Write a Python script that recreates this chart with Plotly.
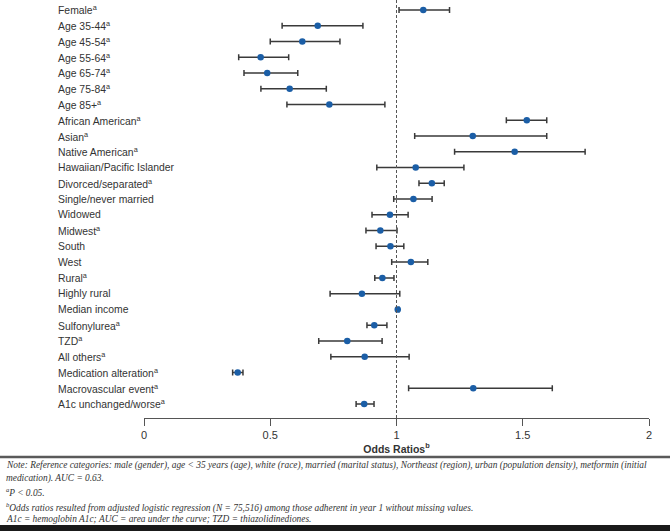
import plotly.graph_objects as go

# odds ratios, top row first
labels = [
    "Female<sup>a</sup>", "Age 35-44<sup>a</sup>", "Age 45-54<sup>a</sup>",
    "Age 55-64<sup>a</sup>", "Age 65-74<sup>a</sup>", "Age 75-84<sup>a</sup>",
    "Age 85+<sup>a</sup>", "African American<sup>a</sup>", "Asian<sup>a</sup>",
    "Native American<sup>a</sup>", "Hawaiian/Pacific Islander",
    "Divorced/separated<sup>a</sup>", "Single/never married", "Widowed",
    "Midwest<sup>a</sup>", "South", "West", "Rural<sup>a</sup>", "Highly rural",
    "Median income", "Sulfonylurea<sup>a</sup>", "TZD<sup>a</sup>",
    "All others<sup>a</sup>", "Medication alteration<sup>a</sup>",
    "Macrovascular event<sup>a</sup>", "A1c unchanged/worse<sup>a</sup>",
]
odds = [1.106, 0.688, 0.627, 0.462, 0.488, 0.577, 0.734, 1.516, 1.302, 1.468,
        1.076, 1.140, 1.067, 0.974, 0.936, 0.976, 1.057, 0.944, 0.863, 1.005,
        0.912, 0.805, 0.874, 0.371, 1.304, 0.872]
ci_low = [1.010, 0.547, 0.500, 0.375, 0.396, 0.463, 0.566, 1.435, 1.072, 1.230,
          0.922, 1.089, 0.989, 0.903, 0.879, 0.919, 0.981, 0.914, 0.737, 1.000,
          0.883, 0.692, 0.740, 0.351, 1.048, 0.840]
ci_high = [1.210, 0.867, 0.776, 0.573, 0.609, 0.722, 0.954, 1.595, 1.595, 1.747,
           1.267, 1.189, 1.141, 1.046, 1.002, 1.029, 1.124, 0.990, 1.013, 1.010,
           0.962, 0.943, 1.050, 0.392, 1.617, 0.911]
x_ticks = [0, 0.5, 1, 1.5, 2]

notes = [
    "Note: Reference categories: male (gender), age &lt; 35 years (age), white (race), married (marital status), "
    "Northeast (region), urban (population density), metformin (initial",
    "medication). AUC = 0.63.",
    "<sup>a</sup>P &lt; 0.05.",
    "<sup>b</sup>Odds ratios resulted from adjusted logistic regression (N = 75,516) among those adherent in year 1 without missing values.",
    "A1c = hemoglobin A1c; AUC = area under the curve; TZD = thiazolidinediones.",
]
note_y = [465, 479, 492, 507, 519]  # pixel rows of the footnote lines

W, H = 670, 531
L, R, T, B = 144, 21, 0, 113
pw, ph = W - L - R, H - T - B


def px(x):
    return (x - L) / pw


def py(y):
    return (H - B - y) / ph


n = len(labels)
ypos = list(range(n))

fig = go.Figure()
fig.add_trace(go.Scatter(
    x=odds, y=ypos, mode="markers",
    marker=dict(color="#1b5ea6", size=6.5),
    error_x=dict(type="data", symmetric=False,
                 array=[h - o for h, o in zip(ci_high, odds)],
                 arrayminus=[o - l for o, l in zip(odds, ci_low)],
                 color="#3a3a3a", thickness=1.5, width=3),
    showlegend=False, cliponaxis=False))

# reference line at OR = 1
fig.add_shape(type="line", xref="x", yref="paper", x0=1, x1=1, y0=0, y1=1,
              line=dict(color="#555", width=1, dash="3px,2px"))

for i, lab in enumerate(labels):
    fig.add_annotation(x=px(56), xref="paper", y=i, yref="y", text=lab,
                       showarrow=False, xanchor="left", yanchor="middle",
                       font=dict(family="Liberation Sans, Arial", size=10.4, color="#333"))

# separator rule and bottom bar
fig.add_shape(type="line", xref="paper", yref="paper", x0=px(0), x1=px(W),
              y0=py(457), y1=py(457), line=dict(color="#5a5a5a", width=2.5))
fig.add_shape(type="rect", xref="paper", yref="paper", x0=px(0), x1=px(W),
              y0=py(531), y1=py(525), line=dict(width=0), fillcolor="#1a1a1a")

for txt, yy in zip(notes, note_y):
    fig.add_annotation(x=px(4), xref="paper", y=py(yy), yref="paper",
                       text=f"<i>{txt}</i>", showarrow=False,
                       xanchor="left", yanchor="middle",
                       font=dict(family="Liberation Serif, Times New Roman", size=9.4, color="#333"))

fig.update_layout(
    width=W, height=H, margin=dict(l=L, r=R, t=T, b=B),
    plot_bgcolor="white", paper_bgcolor="white",
    xaxis=dict(range=[0, 2], tickvals=x_ticks, ticktext=[f"{v:g}" for v in x_ticks],
               showline=True, linecolor="#555", linewidth=1,
               ticks="outside", ticklen=7, tickcolor="#555", showgrid=False, zeroline=False,
               tickfont=dict(family="Liberation Sans, Arial", size=11, color="#333"),
               title=dict(text="<b>Odds Ratios<sup>b</sup></b>", standoff=0,
                          font=dict(family="Liberation Sans, Arial", size=10.5, color="#333"))),
    yaxis=dict(range=[25.89, -0.63], showticklabels=False, showgrid=False,
               zeroline=False, showline=False, ticks=""),
)

# the page's default 8px body margin would push the figure off the window
fig.write_html("out.html", config={"displayModeBar": False},
               post_script="document.body.style.margin='0';")
